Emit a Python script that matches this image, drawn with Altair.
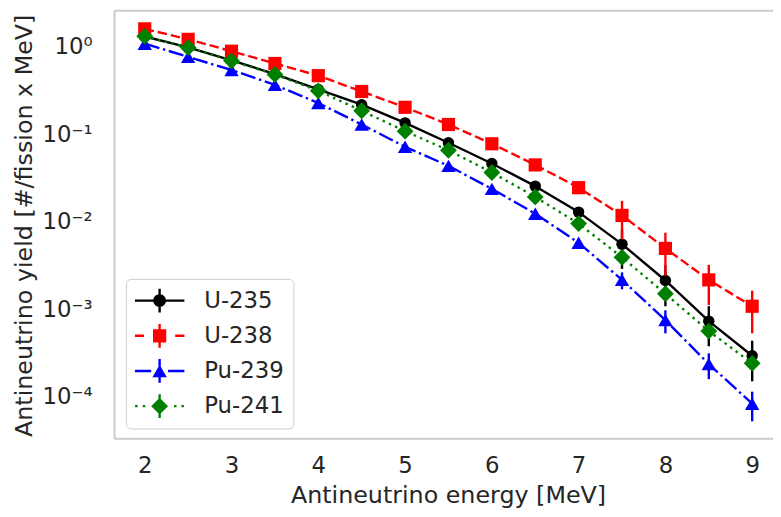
import altair as alt
import pandas as pd

# ---------------- data ----------------
energy = [2.0, 2.5, 3.0, 3.5, 4.0, 4.5, 5.0, 5.5, 6.0, 6.5, 7.0, 7.5, 8.0, 8.5, 9.0]
isotopes = ["U-235", "U-238", "Pu-239", "Pu-241"]

u235 = [1.185, 0.889, 0.634, 0.440, 0.294, 0.197, 0.122, 0.0724, 0.0419, 0.0231,
        0.01167, 0.00502, 0.00193, 0.000662, 0.000266]
u235_err = [0.024, 0.018, 0.013, 0.009, 0.006, 0.004, 0.0025, 0.0015, 0.0009, 0.0006,
            0.0006, 0.0024, 0.00095, 0.00032, 0.00013]

u238 = [1.45, 1.10, 0.805, 0.583, 0.423, 0.279, 0.184, 0.117, 0.0705, 0.0404,
        0.0222, 0.0107, 0.00449, 0.00196, 0.00098]
u238_err = [0.03, 0.022, 0.016, 0.012, 0.008, 0.006, 0.004, 0.0025, 0.0015, 0.001,
            0.002, 0.005, 0.0023, 0.00095, 0.0005]

pu239 = [0.982, 0.693, 0.491, 0.332, 0.206, 0.117, 0.0652, 0.0394, 0.0215, 0.0112,
         0.0052, 0.00196, 0.00068, 0.000214, 0.0000755]
pu239_err = [0.02, 0.014, 0.01, 0.007, 0.004, 0.0025, 0.0013, 0.0008, 0.0005, 0.0003,
             0.0003, 0.00043, 0.0002, 0.00007, 0.000028]

pu241 = [1.19, 0.885, 0.625, 0.437, 0.284, 0.168, 0.0982, 0.0594, 0.0331, 0.0174,
         0.00862, 0.00355, 0.00136, 0.00051, 0.000218]
pu241_err = [0.024, 0.018, 0.012, 0.009, 0.006, 0.003, 0.002, 0.0012, 0.0007, 0.0004,
             0.0004, 0.0004, 0.00017, 0.00007, 0.00003]

x_ticks = [2, 3, 4, 5, 6, 7, 8, 9]
y_ticks = [1.0, 0.1, 0.01, 0.001, 0.0001]
y_tick_labels = ["10⁰", "10⁻¹", "10⁻²", "10⁻³", "10⁻⁴"]

values = {"U-235": u235, "U-238": u238, "Pu-239": pu239, "Pu-241": pu241}
errors = {"U-235": u235_err, "U-238": u238_err, "Pu-239": pu239_err, "Pu-241": pu241_err}

rows = []
for iso in isotopes:
    for e, v, err in zip(energy, values[iso], errors[iso]):
        rows.append({"iso": iso, "energy": e, "value": v, "lo": v - err, "hi": v + err})
df = pd.DataFrame(rows)

# ---------------- styles ----------------
TXT = "#262626"
FRAME = "#cccccc"
FONT = "DejaVu Sans"
LW = 2.4
colors = ["#000000", "#ff0000", "#0000ff", "#008000"]
shapes = ["circle", "square", "triangle-up", "diamond"]
sizes = [133, 177, 210, 289]
dashes = [None, [9.5, 4.0], [15.4, 3.8, 2.4, 3.8], [2.5, 4.4]]

# legend symbols: custom paths (line + marker + error bar), unit = 25 px
U = 25.0


def rect_path(x0, x1, y0, y1):
    return f"M{x0/U:.4f},{y0/U:.4f}H{x1/U:.4f}V{y1/U:.4f}H{x0/U:.4f}Z"


def seg_paths(segs):
    return "".join(rect_path(a - 25, b - 25, -LW / 2, LW / 2) for a, b in segs)


bar = rect_path(-LW / 2, LW / 2, -12, 12)
r = 6.5 / U
circle_p = f"M{r:.4f},0A{r:.4f},{r:.4f},0,1,1,{-r:.4f},0A{r:.4f},{r:.4f},0,1,1,{r:.4f},0Z"
square_p = rect_path(-6.7, 6.7, -6.7, 6.7)
tw, th = 7.25 / U, 6.25 / U
tri_p = f"M0,{-th:.4f}L{tw:.4f},{th:.4f}L{-tw:.4f},{th:.4f}Z"
d = 8.5 / U
dia_p = f"M0,{-d:.4f}L{d:.4f},0L0,{d:.4f}L{-d:.4f},0Z"

legend_paths = [
    seg_paths([(0, 50)]) + bar + circle_p,
    seg_paths([(0, 9.3), (40.7, 50)]) + bar + square_p,
    seg_paths([(0, 16.5), (33.5, 50)]) + bar + tri_p,
    seg_paths([(0.3, 2.8), (8, 10.5), (39.5, 42), (47, 49.5)]) + bar + dia_p,
]

# ---------------- scales & axes ----------------
x_scale = alt.Scale(domain=[1.646, 9.24], nice=False, zero=False)
y_scale = alt.Scale(type="log", domain=[3.03e-5, 2.364], nice=False)

label_expr = ""
for t, lab in zip(y_ticks, y_tick_labels):
    label_expr += f"datum.value > {t * 0.5} ? '{lab}' : "
label_expr += "''"

x_axis_bottom = alt.Axis(
    orient="bottom", values=x_ticks, format="d", grid=False, ticks=False, tickSize=0,
    labelFontSize=23, labelColor=TXT, labelFont=FONT, labelPadding=16,
    domain=True, domainColor=FRAME, domainWidth=2,
    title="Antineutrino energy [MeV]", titleFontSize=24, titleFontWeight="normal",
    titleColor=TXT, titleFont=FONT, titleX=337, titleY=65,
    titleBaseline="alphabetic", titleAlign="center",
)
x_axis_top = alt.Axis(
    orient="top", grid=False, ticks=False, labels=False, tickSize=0,
    domain=True, domainColor=FRAME, domainWidth=2, title="",
)
y_axis_left = alt.Axis(
    orient="left", values=y_ticks, labelExpr=label_expr, grid=False, ticks=False, tickSize=0,
    labelFontSize=23, labelColor=TXT, labelFont=FONT, labelPadding=22, labelOffset=4,
    domain=True, domainColor=FRAME, domainWidth=2,
    title="Antineutrino yield [#/fission x MeV]", titleFontSize=24, titleFontWeight="normal",
    titleColor=TXT, titleFont=FONT, titleX=-83.5, titleY=217, titleAngle=270,
    titleBaseline="alphabetic", titleAlign="center",
)

layers = []
for i, iso in enumerate(isotopes):
    sub = df[df["iso"] == iso]
    if i == 0:
        xa, ya = x_axis_bottom, y_axis_left
    elif i == 1:
        xa, ya = x_axis_top, None
    else:
        xa, ya = None, None
    line_kw = dict(color=colors[i], strokeWidth=LW, strokeJoin="round")
    if dashes[i] is not None:
        line_kw["strokeDash"] = dashes[i]
    line = alt.Chart(sub).mark_line(**line_kw).encode(
        x=alt.X("energy:Q", scale=x_scale, axis=xa),
        y=alt.Y("value:Q", scale=y_scale, axis=ya),
    )
    errs = alt.Chart(sub).mark_rule(color=colors[i], strokeWidth=LW).encode(
        x=alt.X("energy:Q", scale=x_scale, axis=None),
        y=alt.Y("lo:Q", scale=y_scale, axis=None),
        y2="hi:Q",
    )
    pts = alt.Chart(sub).mark_point(
        shape=shapes[i], filled=True, size=sizes[i], color=colors[i], opacity=1, strokeWidth=0
    ).encode(
        x=alt.X("energy:Q", scale=x_scale, axis=None),
        y=alt.Y("value:Q", scale=y_scale, axis=None),
    )
    layers += [line, errs, pts]

legend_kw = dict(
    orient="none", legendX=12, legendY=271, title=None,
    labelFontSize=23, labelColor=TXT, labelFont=FONT, labelLimit=300,
    symbolSize=2500, symbolStrokeWidth=0, symbolOpacity=1,
    labelOffset=20, padding=9, rowPadding=9.5, clipHeight=26,
    strokeColor=FRAME, fillColor="white", cornerRadius=5,
)
legend_layer = (
    alt.Chart(pd.DataFrame({"iso": isotopes}))
    .transform_filter("false")
    .mark_point(filled=True, opacity=1)
    .encode(
        color=alt.Color("iso:N", scale=alt.Scale(domain=isotopes, range=colors),
                        legend=alt.Legend(**legend_kw)),
        shape=alt.Shape("iso:N", scale=alt.Scale(domain=isotopes, range=legend_paths),
                        legend=alt.Legend(**legend_kw)),
    )
)
layers.append(legend_layer)

chart = (
    alt.layer(*layers)
    .resolve_axis(x="independent", y="independent")
    .properties(
        width=665, height=432,
        autosize=alt.AutoSizeParams(type="none"),
        padding={"left": 107, "top": 0, "right": 0, "bottom": 69},
    )
    .configure_view(strokeWidth=0)
    .configure(font=FONT, background="white")
)

chart.save("out.html", embed_options={"renderer": "svg", "actions": False})
